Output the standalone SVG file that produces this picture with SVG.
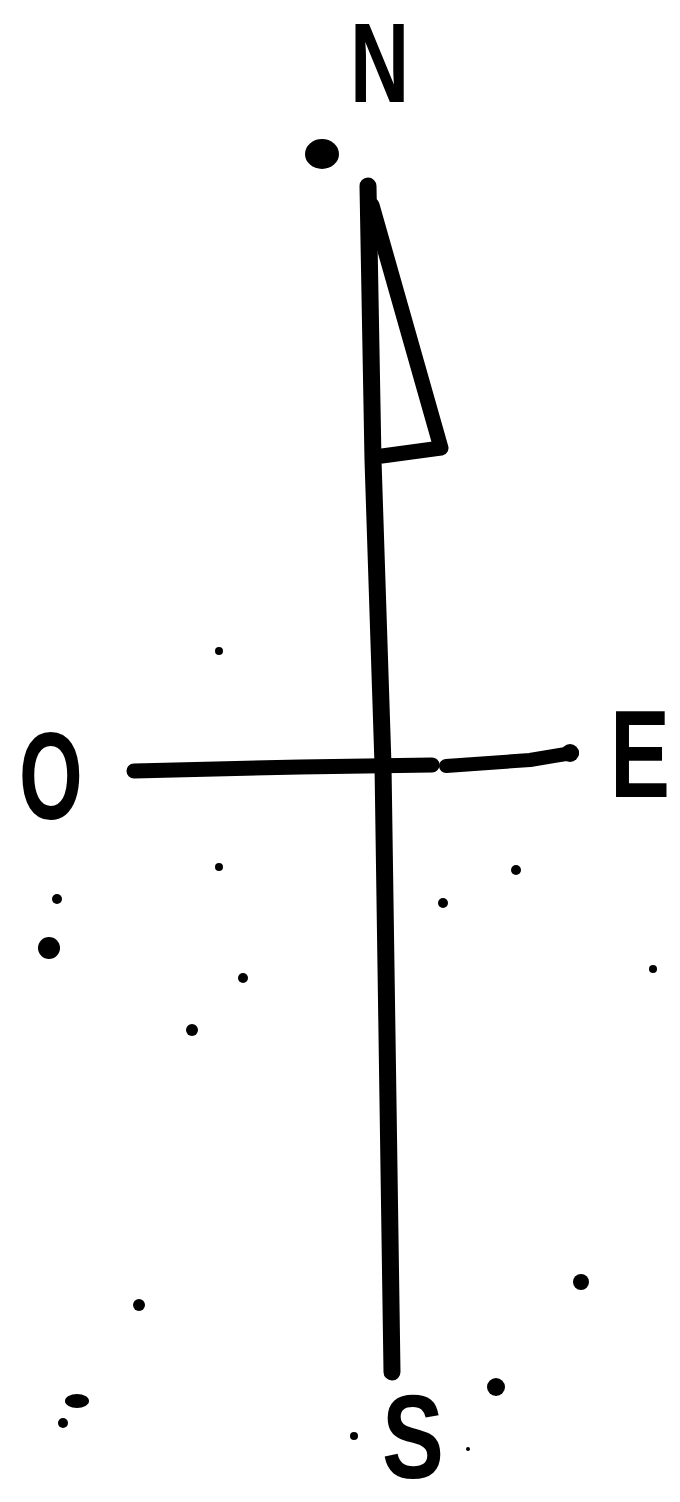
<svg xmlns="http://www.w3.org/2000/svg" width="680" height="1502" viewBox="0 0 680 1502">
<style>
.lbl{font-family:"Liberation Sans","DejaVu Sans",sans-serif;font-weight:bold;fill:#000}
.ln{fill:none;stroke:#000;stroke-linecap:round;stroke-linejoin:round}
.dot{fill:#000}
</style>
<rect width="680" height="1502" fill="#fff"/>
<g id="labels">
<text id="N" class="lbl" transform="translate(350,102) scale(0.72,1)" font-size="114">N</text>
<text id="O" class="lbl" transform="translate(19,819) scale(0.66,1)" font-size="124">O</text>
<text id="E" class="lbl" transform="translate(610,797) scale(0.72,1)" font-size="125">E</text>
<text id="S" class="lbl" transform="translate(382,1478) scale(0.78,1)" font-size="119">S</text>
</g>
<g id="connectors">
<polyline class="ln" stroke-width="17" points="368,186 373,460 383,765 392,1372"/>
<polyline class="ln" stroke-width="15" points="372,205 441,448 382,456"/>
<polyline class="ln" stroke-width="15" points="134,771 300,767 432,765"/>
<polyline class="ln" stroke-width="14" points="446,766 530,760 572,753"/>
<circle class="dot" cx="570" cy="753" r="9"/>
</g>
<g id="dots">
<ellipse class="dot" cx="322" cy="154" rx="17" ry="15"/>
<circle class="dot" cx="219" cy="651" r="4"/>
<circle class="dot" cx="219" cy="867" r="4"/>
<circle class="dot" cx="57" cy="899" r="5"/>
<circle class="dot" cx="49" cy="948" r="11"/>
<circle class="dot" cx="243" cy="978" r="5"/>
<circle class="dot" cx="192" cy="1030" r="6"/>
<circle class="dot" cx="516" cy="870" r="5"/>
<circle class="dot" cx="443" cy="903" r="5"/>
<circle class="dot" cx="653" cy="969" r="4"/>
<circle class="dot" cx="139" cy="1305" r="6"/>
<ellipse class="dot" cx="77" cy="1401" rx="12" ry="7"/>
<circle class="dot" cx="63" cy="1423" r="5"/>
<circle class="dot" cx="581" cy="1282" r="8"/>
<circle class="dot" cx="496" cy="1387" r="9"/>
<circle class="dot" cx="354" cy="1436" r="4"/>
<circle class="dot" cx="468" cy="1449" r="2"/>
</g>
</svg>
